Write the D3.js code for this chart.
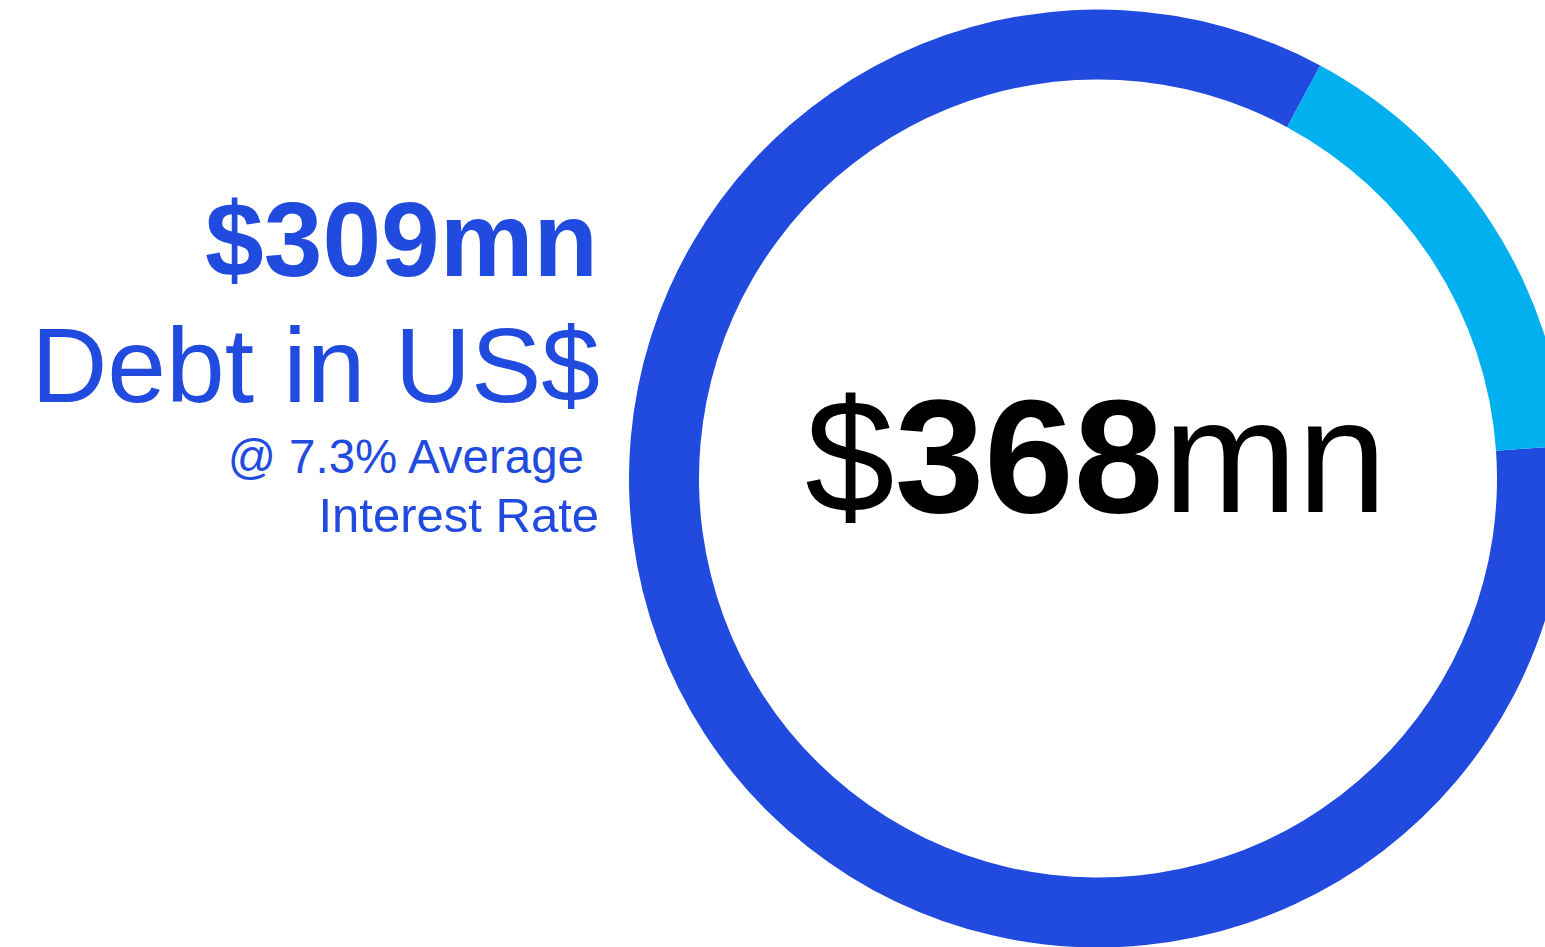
<!DOCTYPE html>
<html>
<head>
<meta charset="utf-8">
<script src="https://cdn.jsdelivr.net/npm/d3@7"></script>
<style>
  html, body { margin: 0; padding: 0; background: #ffffff; overflow: hidden; }
  svg { display: block; }
  text { font-family: "Liberation Sans", Arial, Helvetica, sans-serif; }
</style>
</head>
<body>
<svg id="chart" width="1545" height="947"></svg>
<script>
// Debt composition (US$ millions)
const segments = ["Debt in US$", "Other debt"];
const values = [309, 59];
const colors = ["#214BDE", "#02B0F0"];
const rateLabel = "7.3%";

const total = d3.sum(values);

const svg = d3.select("#chart");

const cx = 1098, cy = 478.5;
const outerR = 469, innerR = 399;

// Ring: the US$ slice starts just right of 3 o'clock and runs clockwise
const startDeg = 86;
const pie = d3.pie()
  .sort(null)
  .value(d => d.value)
  .startAngle(startDeg * Math.PI / 180)
  .endAngle((startDeg + 360) * Math.PI / 180);

const arc = d3.arc().innerRadius(innerR).outerRadius(outerR);

const data = segments.map((s, i) => ({ name: s, value: values[i], color: colors[i] }));

const ring = svg.append("g").attr("transform", `translate(${cx},${cy})`);
ring.selectAll("path")
  .data(pie(data))
  .join("path")
  .attr("d", arc)
  .attr("fill", d => d.data.color);

// Total in the middle of the ring
const fmt = v => d3.format(",")(v);
const centre = svg.append("text")
  .attr("x", cx - 2)
  .attr("y", 512)
  .attr("text-anchor", "middle")
  .attr("fill", "#000000")
  .attr("font-size", 161);
centre.append("tspan").text("$");
centre.append("tspan").attr("font-weight", "bold").text(fmt(total));
centre.append("tspan").text("mn");

// Callout for the US$ share, right-aligned beside the ring
const blue = colors[0];
const side = svg.append("g").attr("fill", blue).attr("text-anchor", "end");
side.append("text")
  .attr("x", 598).attr("y", 276)
  .attr("font-size", 105.5).attr("font-weight", "bold")
  .text(`$${fmt(values[0])}mn`);
side.append("text")
  .attr("x", 600).attr("y", 402)
  .attr("font-size", 105.5)
  .text(segments[0]);
side.append("text")
  .attr("x", 584).attr("y", 473)
  .attr("font-size", 47.5)
  .text(`@ ${rateLabel} Average`);
side.append("text")
  .attr("x", 599).attr("y", 532)
  .attr("font-size", 49)
  .text("Interest Rate");
</script>
</body>
</html>
